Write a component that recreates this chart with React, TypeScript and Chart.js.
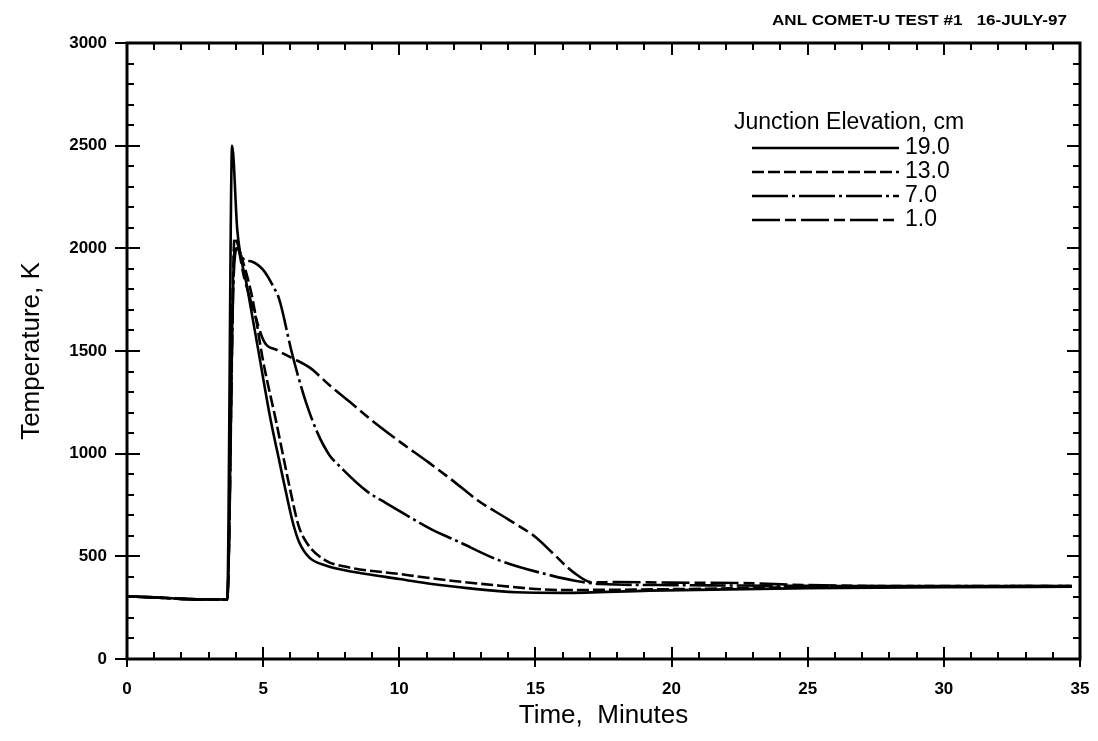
import React, { useEffect, useRef } from "react";
import { Chart, registerables } from "chart.js";

Chart.register(...registerables);

const FONT = "'Liberation Sans', Arial, Helvetica, sans-serif";

// Junction elevations (cm), one trace each
const elevations = ["19.0", "13.0", "7.0", "1.0"];

// Elevation 19.0 cm
const time19 = [0, 1, 2, 3, 3.68, 3.86, 4.05, 4.4, 4.8, 5.28, 5.6, 5.89, 6.1, 6.32, 6.69, 7.3, 8.0, 8.78, 10, 11.2, 12.5, 14.3, 16, 19.2, 25, 30, 34.7];
const temp19 = [305, 300, 293, 290, 290, 2500, 2090, 1820, 1520, 1161, 960, 780, 660, 570, 495, 455, 432, 414, 390, 365, 345, 325, 322, 333, 345, 350, 352];

// Elevation 13.0 cm
const time13 = [0, 1, 2, 3, 3.68, 3.95, 4.2, 4.6, 5.0, 5.47, 6.0, 6.3, 6.63, 7.3, 8.0, 10, 12, 13.7, 15, 16, 20, 25, 30, 34.7];
const temp13 = [305, 300, 293, 290, 290, 2050, 1960, 1760, 1450, 1161, 820, 650, 560, 479, 450, 414, 380, 357, 341, 336, 340, 350, 354, 355];

// Elevation 7.0 cm
const time7 = [0, 1, 2, 3, 3.68, 3.9, 4.05, 4.3, 4.6, 5.0, 5.35, 5.6, 6.03, 6.3, 6.58, 7.0, 7.43, 7.8, 8.78, 9.5, 10.4, 11.2, 12.1, 13.7, 15.6, 16.5, 17.4, 20, 25, 30, 34.7];
const temp7 = [305, 300, 293, 290, 290, 1800, 2000, 1945, 1935, 1895, 1820, 1748, 1505, 1370, 1247, 1100, 994, 940, 820, 760, 690, 630, 576, 479, 406, 380, 365, 360, 356, 355, 355];

// Elevation 1.0 cm
const time1 = [0, 1, 2, 3, 3.68, 3.95, 4.05, 4.3, 4.6, 5.04, 5.5, 6.0, 6.7, 7.43, 8.2, 9.0, 10, 11.1, 12, 12.9, 14, 15.0, 15.6, 16.4, 17.1, 18, 20, 22.5, 25, 30, 34.7];
const temp1 = [305, 300, 293, 290, 290, 1990, 2000, 1860, 1720, 1545, 1505, 1470, 1420, 1334, 1250, 1161, 1060, 955, 865, 771, 680, 594, 520, 422, 373, 375, 372, 370, 360, 355, 355];

// Axis ranges and tick spacing
const xRange = [0, 35];
const yRange = [0, 3000];
const xMajor = 5;
const xMinor = 1;
const yMajor = 500;
const yMinor = 100;

const header = "ANL COMET-U TEST #1   16-JULY-97";
const legendTitle = "Junction Elevation, cm";

const times = [time19, time13, time7, time1];
const temps = [temp19, temp13, temp7, temp1];
const dashes = [[], [12, 4], [36, 4, 3, 4], [28, 5, 11, 5]];

// Box, inward tick marks on all four sides
const framePlugin = {
  id: "frame",
  afterDatasetsDraw(chart: any) {
    const { ctx, chartArea: a, scales } = chart;
    const x = scales.x;
    const y = scales.y;
    ctx.save();
    ctx.strokeStyle = "#000";
    ctx.lineCap = "butt";
    ctx.lineWidth = 2;
    for (let v = xRange[0]; v <= xRange[1] + 1e-9; v += xMinor) {
      const px = Math.round(x.getPixelForValue(v));
      const major = Math.abs(v % xMajor) < 1e-9;
      const len = major ? 12 : 7;
      ctx.beginPath();
      ctx.moveTo(px, a.bottom + (major ? 8 : 0));
      ctx.lineTo(px, a.bottom - len);
      ctx.moveTo(px, a.top);
      ctx.lineTo(px, a.top + len);
      ctx.stroke();
    }
    for (let v = yRange[0]; v <= yRange[1] + 1e-9; v += yMinor) {
      const py = Math.round(y.getPixelForValue(v));
      const major = Math.abs(v % yMajor) < 1e-9;
      const len = major ? 13 : 7;
      ctx.beginPath();
      ctx.moveTo(a.left - (major ? 12 : 0), py);
      ctx.lineTo(a.left + len, py);
      ctx.moveTo(a.right, py);
      ctx.lineTo(a.right - len, py);
      ctx.stroke();
    }
    ctx.lineWidth = 3;
    ctx.strokeRect(a.left, a.top, a.right - a.left, a.bottom - a.top);
    ctx.restore();
  },
};

// Legend block with line samples
const legendPlugin = {
  id: "elevationLegend",
  afterDraw(chart: any) {
    const { ctx } = chart;
    ctx.save();
    ctx.fillStyle = "#000";
    ctx.strokeStyle = "#000";
    ctx.textBaseline = "middle";
    ctx.font = `23px ${FONT}`;
    ctx.fillText(legendTitle, 734, 123);
    elevations.forEach((label, i) => {
      const yy = 148 + i * 24;
      ctx.lineWidth = 2.6;
      ctx.setLineDash(dashes[i]);
      ctx.beginPath();
      ctx.moveTo(752, yy);
      ctx.lineTo(899, yy);
      ctx.stroke();
      ctx.setLineDash([]);
      ctx.fillText(label, 905, yy);
    });
    ctx.restore();
  },
};

// Run identification at the top right
const headerPlugin = {
  id: "header",
  afterDraw(chart: any) {
    const { ctx } = chart;
    ctx.save();
    ctx.fillStyle = "#000";
    ctx.textBaseline = "middle";
    ctx.font = `bold 14px ${FONT}`;
    const w = ctx.measureText(header).width;
    const target = 295;
    ctx.translate(772, 21);
    ctx.scale(target / w, 1);
    ctx.fillText(header, 0, 0);
    ctx.restore();
  },
};

export default function App() {
  const canvasRef = useRef<HTMLCanvasElement | null>(null);

  useEffect(() => {
    if (!canvasRef.current) return;
    const chart = new Chart(canvasRef.current, {
      type: "line",
      data: {
        datasets: elevations.map((label, i) => ({
          label,
          data: times[i].map((t, j) => ({ x: t, y: temps[i][j] })),
          borderColor: "#000",
          borderWidth: 2.6,
          borderDash: dashes[i],
          pointRadius: 0,
          fill: false,
          cubicInterpolationMode: "monotone" as const,
        })),
      },
      options: {
        responsive: false,
        animation: false,
        layout: { padding: { top: 43, right: 18, left: 0, bottom: 0 } },
        plugins: {
          legend: { display: false },
          tooltip: { enabled: false },
        },
        scales: {
          x: {
            type: "linear",
            min: xRange[0],
            max: xRange[1],
            afterFit: (s: any) => {
              s.height = 82;
              s.paddingLeft = 0;
              s.paddingRight = 0;
            },
            grid: { display: false, drawTicks: false },
            border: { display: false },
            ticks: {
              stepSize: xMajor,
              padding: 20,
              color: "#000",
              font: { family: FONT, size: 17, weight: "bold" },
              callback: (v: any) => String(v),
            },
            title: {
              display: true,
              text: "Time,  Minutes",
              color: "#000",
              font: { family: FONT, size: 26 },
              padding: { top: 0, bottom: 10 },
            },
          },
          y: {
            type: "linear",
            min: yRange[0],
            max: yRange[1],
            afterFit: (s: any) => {
              s.width = 127;
              s.paddingTop = 0;
              s.paddingBottom = 0;
            },
            grid: { display: false, drawTicks: false },
            border: { display: false },
            ticks: {
              stepSize: yMajor,
              padding: 20,
              color: "#000",
              font: { family: FONT, size: 17, weight: "bold" },
              callback: (v: any) => String(v),
            },
            title: {
              display: true,
              text: "Temperature, K",
              color: "#000",
              font: { family: FONT, size: 26 },
              padding: { top: 16, bottom: 0 },
            },
          },
        },
      },
      plugins: [framePlugin, legendPlugin, headerPlugin],
    });
    return () => chart.destroy();
  }, []);

  return (
    <div style={{ position: "fixed", left: 0, top: 0, width: 1098, height: 741, background: "#fff" }}>
      <canvas ref={canvasRef} width={1098} height={741} />
    </div>
  );
}
